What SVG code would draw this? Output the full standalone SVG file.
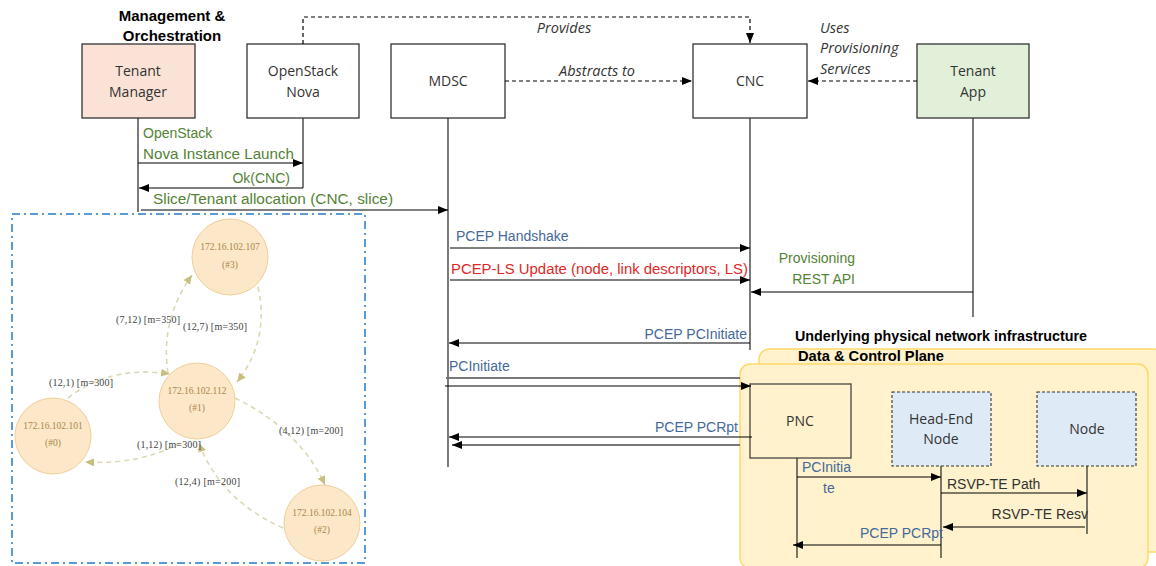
<svg xmlns="http://www.w3.org/2000/svg" width="1156" height="566" viewBox="0 0 1156 566">
<style>
.box{stroke:#333;stroke-width:1.3}
.lbl{font-family:"Open Sans","Liberation Sans",sans-serif;font-size:14px;fill:#333;text-anchor:middle}
.msg{font-family:"Liberation Sans",Arial,sans-serif;font-size:14px}
.g{fill:#548235}.b{fill:#44699A}.r{fill:#E02828}.k{fill:#333}
.it{font-family:"Open Sans","Liberation Sans",sans-serif;font-size:14.5px;font-style:italic;fill:#333}
.bold{font-family:"Liberation Sans",Arial,sans-serif;font-size:15px;font-weight:bold;fill:#000}
.life{stroke:#333;stroke-width:1.3;fill:none}
.ln{stroke:#000;stroke-width:1.2;fill:none}
.dash{stroke:#000;stroke-width:1.2;fill:none;stroke-dasharray:4,3}
.grey{stroke:#777;stroke-width:2;fill:none}
.gn{fill:#FCE8C8;stroke:#EFCF98;stroke-width:1}
.gt{font-family:"Liberation Serif",serif;font-size:9.5px;fill:#A8864A;text-anchor:middle}
.ge{stroke:#DCD8B4;stroke-width:1.6;fill:none;stroke-dasharray:5,4}
.gl{font-family:"Liberation Serif",serif;font-size:10px;fill:#444}
</style>
<defs>
<marker id="arr" markerUnits="userSpaceOnUse" markerWidth="11" markerHeight="9" refX="10" refY="4" orient="auto"><path d="M0,0 L10,4 L0,8 z" fill="#000"/></marker>
<marker id="ga" markerUnits="userSpaceOnUse" markerWidth="10" markerHeight="9" refX="9" refY="4" orient="auto"><path d="M0,0 L9,4 L0,8 z" fill="#C8BF7E"/></marker>
</defs>
<rect width="1156" height="566" fill="#fff"/>

<text class="bold" x="172" y="21" text-anchor="middle">Management &amp;</text>
<text class="bold" x="172" y="41" text-anchor="middle">Orchestration</text>

<g id="panels">
<rect x="759" y="349" width="405" height="203" rx="10" fill="#FFF2CC" stroke="#FFD966" stroke-width="1.5"/>
<rect x="740" y="364" width="408" height="204" rx="10" fill="#FFF2CC" stroke="#FFD966" stroke-width="1.5"/>
<text class="bold" x="795" y="341" textLength="292" lengthAdjust="spacingAndGlyphs">Underlying physical network infrastructure</text>
<text class="bold" x="798" y="361" font-size="14" textLength="146" lengthAdjust="spacingAndGlyphs">Data &amp; Control Plane</text>
</g>

<g id="tenant-manager"><rect class="box" x="82" y="44" width="113" height="74" fill="#FAE3D6"/><text class="lbl" x="138" y="76">Tenant</text><text class="lbl" x="138" y="97">Manager</text></g>
<g id="openstack-nova"><rect class="box" x="247" y="44" width="112" height="74" fill="#fff"/><text class="lbl" x="303" y="76">OpenStack</text><text class="lbl" x="303" y="97">Nova</text></g>
<g id="mdsc"><rect class="box" x="391" y="44" width="114" height="74" fill="#fff"/><text class="lbl" x="448" y="86">MDSC</text></g>
<g id="cnc"><rect class="box" x="693" y="44" width="114" height="74" fill="#fff"/><text class="lbl" x="750" y="86">CNC</text></g>
<g id="tenant-app"><rect class="box" x="917" y="44" width="112" height="74" fill="#E2EFD9"/><text class="lbl" x="973" y="76">Tenant</text><text class="lbl" x="973" y="97">App</text></g>
<g id="pnc"><rect x="750" y="384" width="101" height="74" fill="none" stroke="#444" stroke-width="1.3"/><text class="lbl" x="800" y="426">PNC</text></g>
<g id="head-end-node"><rect x="892" y="392" width="99" height="74" fill="#DEEBF7" stroke="#333" stroke-width="1.1" stroke-dasharray="3,2"/><text class="lbl" x="941" y="424">Head-End</text><text class="lbl" x="941" y="444">Node</text></g>
<g id="node"><rect x="1037" y="392" width="99" height="74" fill="#DEEBF7" stroke="#333" stroke-width="1.1" stroke-dasharray="3,2"/><text class="lbl" x="1087" y="434">Node</text></g>

<g id="lifelines">
<line class="life" x1="138" y1="118" x2="138" y2="212"/>
<line class="life" x1="303" y1="118" x2="303" y2="188"/>
<line class="life" x1="448" y1="118" x2="448" y2="467"/>
<line class="life" x1="750" y1="118" x2="750" y2="350"/>
<line class="life" x1="973" y1="118" x2="973" y2="317"/>
<line class="life" x1="797" y1="458" x2="797" y2="558"/>
<line class="life" x1="941" y1="466" x2="941" y2="558"/>
<line class="life" x1="1087" y1="466" x2="1087" y2="534"/>
</g>

<g id="connectors">
<path class="dash" d="M303,44 V17 H750 V43" marker-end="url(#arr)"/>
<path class="dash" d="M505,81 H692" marker-end="url(#arr)"/>
<path class="dash" d="M917,81 H808" marker-end="url(#arr)"/>
<path class="ln" d="M138,163 H303" marker-end="url(#arr)"/>
<path class="ln" d="M303,188 H139" marker-end="url(#arr)"/>
<path class="ln" d="M141,210 H448" marker-end="url(#arr)"/>
<path class="ln" d="M450,248 H750" marker-end="url(#arr)"/>
<path class="ln" d="M450,280 H750" marker-end="url(#arr)"/>
<path class="ln" d="M973,292 H751" marker-end="url(#arr)"/>
<path class="ln" d="M750,343 H449" marker-end="url(#arr)"/>
<path class="grey" d="M446,378 H740"/>
<path class="ln" d="M445,386 H751" marker-end="url(#arr)"/>
<path class="ln" d="M752,437 H449" marker-end="url(#arr)"/>
<path class="grey" d="M740,445 H452" marker-end="url(#arr)"/>
<path class="ln" d="M797,477 H941" marker-end="url(#arr)"/>
<path class="ln" d="M941,493 H1087" marker-end="url(#arr)"/>
<path class="ln" d="M1085,527 H943" marker-end="url(#arr)"/>
<path class="ln" d="M941,545 H793" marker-end="url(#arr)"/>
</g>

<g id="labels">
<text class="it" x="564" y="33" text-anchor="middle">Provides</text>
<text class="it" x="597" y="76" text-anchor="middle">Abstracts to</text>
<text class="it" x="820" y="33">Uses</text>
<text class="it" x="820" y="53">Provisioning</text>
<text class="it" x="820" y="74">Services</text>
<text class="msg g" x="143" y="138">OpenStack</text>
<text class="msg g" x="143" y="159" textLength="151" lengthAdjust="spacingAndGlyphs">Nova Instance Launch</text>
<text class="msg g" x="290" y="183" text-anchor="end">Ok(CNC)</text>
<text class="msg g" x="153" y="204" textLength="240" lengthAdjust="spacingAndGlyphs">Slice/Tenant allocation (CNC, slice)</text>
<text class="msg b" x="456" y="241">PCEP Handshake</text>
<text class="msg r" x="451" y="274" textLength="297" lengthAdjust="spacingAndGlyphs">PCEP-LS Update (node, link descriptors, LS)</text>
<text class="msg g" x="855" y="263" text-anchor="end">Provisioning</text>
<text class="msg g" x="855" y="284" text-anchor="end">REST API</text>
<text class="msg b" x="747" y="339" text-anchor="end">PCEP PCInitiate</text>
<text class="msg b" x="449" y="371">PCInitiate</text>
<text class="msg b" x="738" y="432" text-anchor="end">PCEP PCRpt</text>
<text class="msg b" x="802" y="472">PCInitia</text>
<text class="msg b" x="823" y="493">te</text>
<text class="msg k" x="947" y="489">RSVP-TE Path</text>
<text class="msg k" x="1088" y="519" text-anchor="end">RSVP-TE Resv</text>
<text class="msg b" x="943" y="538" text-anchor="end">PCEP PCRpt</text>
</g>

<g id="topology">
<rect x="12" y="214" width="353" height="349" fill="none" stroke="#5B9BD5" stroke-width="2" stroke-dasharray="8,4,2,4"/>
<g id="graph-edges">
<path class="ge" d="M168,373 Q160,320 192,275" marker-end="url(#ga)"/>
<path class="ge" d="M258,287 Q270,340 237,382" marker-end="url(#ga)"/>
<path class="ge" d="M68,398 Q110,365 170,374" marker-end="url(#ga)"/>
<path class="ge" d="M180,443 Q140,465 85,462" marker-end="url(#ga)"/>
<path class="ge" d="M235,398 Q300,430 325,485" marker-end="url(#ga)"/>
<path class="ge" d="M283,528 Q220,500 199,443" marker-end="url(#ga)"/>
</g>
<g id="g-node-3"><circle class="gn" cx="230" cy="257" r="38"/><text class="gt" x="230" y="250">172.16.102.107</text><text class="gt" x="230" y="268">(#3)</text></g>
<g id="g-node-1"><circle class="gn" cx="197" cy="401" r="38"/><text class="gt" x="197" y="394">172.16.102.112</text><text class="gt" x="197" y="411">(#1)</text></g>
<g id="g-node-0"><circle class="gn" cx="53" cy="436" r="38"/><text class="gt" x="53" y="429">172.16.102.101</text><text class="gt" x="53" y="446">(#0)</text></g>
<g id="g-node-2"><circle class="gn" cx="322" cy="523" r="38"/><text class="gt" x="322" y="516">172.16.102.104</text><text class="gt" x="322" y="533">(#2)</text></g>
<text class="gl" x="116" y="323" textLength="64">(7,12) [m=350]</text>
<text class="gl" x="183" y="330" textLength="64">(12,7) [m=350]</text>
<text class="gl" x="49" y="386" textLength="64">(12,1) [m=300]</text>
<text class="gl" x="137" y="448" textLength="64">(1,12) [m=300]</text>
<text class="gl" x="279" y="434" textLength="64">(4,12) [m=200]</text>
<text class="gl" x="175" y="485" textLength="65">(12,4) [m=200]</text>
</g>
</svg>
